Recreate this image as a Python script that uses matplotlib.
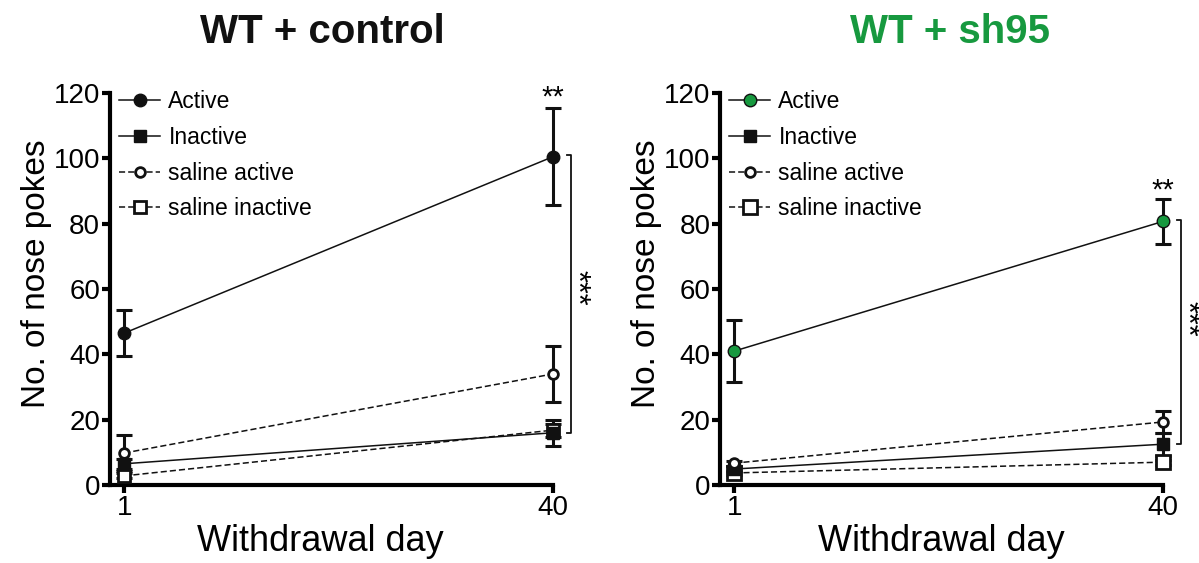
import matplotlib
matplotlib.use("Agg")
import matplotlib.pyplot as plt

plt.rcParams['font.family'] = ['Liberation Sans', 'DejaVu Sans']

days = [1, 40]
series_labels = ["Active", "Inactive", "saline active", "saline inactive"]

# WT + control
ctrl_active = [46.5, 100.5]
ctrl_active_err = [7.0, 14.8]
ctrl_inactive = [6.5, 16.0]
ctrl_inactive_err = [1.5, 4.0]
ctrl_sal_active = [9.8, 34.0]
ctrl_sal_active_err = [5.5, 8.7]
ctrl_sal_inactive = [2.8, 16.8]
ctrl_sal_inactive_err = [0.8, 2.0]

# WT + sh95
sh_active = [41.0, 80.7]
sh_active_err = [9.6, 7.0]
sh_inactive = [4.9, 12.5]
sh_inactive_err = [1.0, 3.5]
sh_sal_active = [6.7, 19.3]
sh_sal_active_err = [0.8, 3.4]
sh_sal_inactive = [3.7, 7.0]
sh_sal_inactive_err = [0.5, 0.8]

titles = ["WT + control", "WT + sh95"]
title_colors = ["#111111", "#17993f"]
active_colors = ["#111111", "#17993f"]
yticks = [0, 20, 40, 60, 80, 100, 120]
xticks = [1, 40]
xlabel = "Withdrawal day"
ylabel = "No. of nose pokes"
star_top = ["**", "**"]
star_top_y = [118.5, 90.0]
bracket_top = [101, 81]
bracket_bot = [16, 12.5]
star_side_y = [60.5, 51.0]

fig = plt.figure(figsize=(11.99, 5.63), dpi=100)
positions = [[0.0917, 0.1385, 0.3695, 0.6963], [0.6005, 0.1385, 0.3695, 0.6963]]
title_x = [0.48, 0.52]
xlabel_x = [0.475, 0.5]

datasets = [
    (ctrl_active, ctrl_active_err, ctrl_inactive, ctrl_inactive_err,
     ctrl_sal_active, ctrl_sal_active_err, ctrl_sal_inactive, ctrl_sal_inactive_err),
    (sh_active, sh_active_err, sh_inactive, sh_inactive_err,
     sh_sal_active, sh_sal_active_err, sh_sal_inactive, sh_sal_inactive_err),
]

for i, pos in enumerate(positions):
    ax = fig.add_axes(pos)
    a, ae, ina, inae, sa, sae, si, sie = datasets[i]
    ebkw = dict(fmt='none', ecolor='#111111', elinewidth=2.2, capsize=6, capthick=2.2, zorder=3)
    for yv, ev in [(a, ae), (ina, inae), (sa, sae), (si, sie)]:
        eb = ax.errorbar(days, yv, yerr=ev, **ebkw)
        for art in eb.lines[1] + eb.lines[2]:
            art.set_clip_on(False)
    lines = []
    lines.append(ax.plot(days, si, ls=(0, (4, 2)), lw=1.1, color='#111111', marker='s',
                         ms=10 if i == 1 else 8, mfc='white', mec='#111111', mew=2.0,
                         label=series_labels[3], zorder=4)[0])
    lines.append(ax.plot(days, ina, ls='-', lw=1.1, color='#111111', marker='s', ms=8,
                         mfc='#111111', mec='#111111', label=series_labels[1], zorder=5)[0])
    lines.append(ax.plot(days, sa, ls=(0, (4, 2)), lw=1.1, color='#111111', marker='o', ms=7,
                         mfc='white', mec='#111111', mew=2.0, label=series_labels[2], zorder=6)[0])
    lines.append(ax.plot(days, a, ls='-', lw=1.1, color='#111111', marker='o', ms=9,
                         mfc=active_colors[i], mec='#111111', mew=1.0, label=series_labels[0],
                         zorder=7)[0])
    for ln in lines:
        ln.set_clip_on(False)

    ax.set_xlim(-0.3, 40)
    ax.set_ylim(0, 120)
    ax.set_xticks(xticks)
    ax.set_yticks(yticks)
    for s in ['top', 'right']:
        ax.spines[s].set_visible(False)
    for s in ['left', 'bottom']:
        ax.spines[s].set_linewidth(3.0)
    ax.tick_params(axis='both', width=3.0, length=6, labelsize=20, direction='out', pad=1)
    ax.set_xlabel(xlabel, fontsize=26, labelpad=2, x=xlabel_x[i])
    ax.set_ylabel(ylabel, fontsize=24, labelpad=1, y=0.54)
    ax.set_title(titles[i], fontsize=29, fontweight='bold', color=title_colors[i], pad=36,
                 x=title_x[i])

    handles, labels = ax.get_legend_handles_labels()
    order = [labels.index(l) for l in series_labels]
    ax.legend([handles[k] for k in order], [labels[k] for k in order], loc='upper left',
              bbox_to_anchor=(0.0, 1.03), frameon=False, fontsize=16.5, handlelength=1.8,
              handletextpad=0.35, labelspacing=0.55, borderaxespad=0.2, borderpad=0.2)

    # significance
    ax.text(40, star_top_y[i], star_top[i], ha='center', va='center', fontsize=21, clip_on=False)
    bx = 41.6
    ax.plot([bx - 0.35, bx, bx, bx - 0.35], [bracket_top[i], bracket_top[i], bracket_bot[i], bracket_bot[i]],
            color='#111111', lw=1.3, clip_on=False)
    ax.text(bx + 0.45, star_side_y[i], "***", rotation=-90, ha='center',
            va='center', fontsize=22, clip_on=False)

fig.savefig("out.png", dpi=100)
